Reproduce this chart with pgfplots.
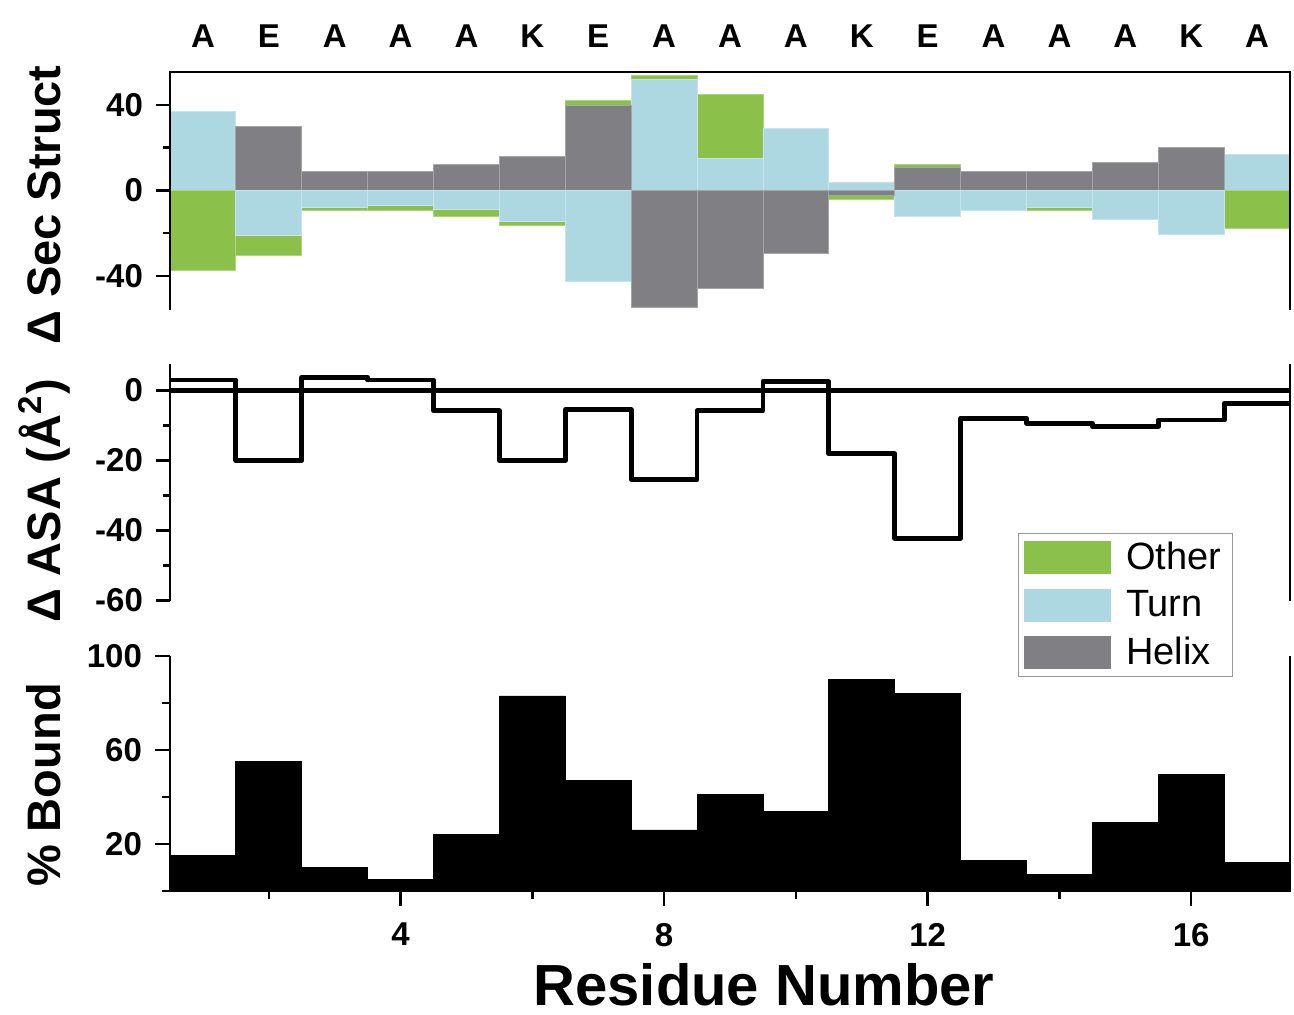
\documentclass[border=0pt]{standalone}
\usepackage{fontspec}
\setmainfont{Liberation Sans}
\usepackage{pgfplots}
\pgfplotsset{compat=1.18}
\definecolor{cOther}{RGB}{139,193,74}
\definecolor{cTurn}{RGB}{173,216,226}
\definecolor{cHelix}{RGB}{128,127,131}
\pgfplotsset{
  panel/.style={
    scale only axis, width=560pt,
    xmin=0.5, xmax=17.5, clip=false,
    tick align=outside,
    major tick length=7pt, minor tick length=3.5pt,
    every tick/.append style={line width=1.3pt, black},
    axis line style={draw=none},
    tick label style={font=\fontsize{16.5}{18}\selectfont\bfseries},
    y tick label style={xshift=-3pt},
    /pgf/number format/assume math mode=true,
    ytick pos=left,
  },
  sbar/.style={ybar, bar width=1, bar shift=0pt, fill=#1, draw=#1!70!white, line width=0.4pt},
}
\newcommand{\res}[2]{\node[anchor=base, inner sep=0pt, font=\fontsize{16.5}{18}\selectfont\bfseries, yshift=12.5pt] at (axis cs:#1,55.5) {#2};}
\begin{document}
\begin{tikzpicture}
\path[use as bounding box] (0pt,0pt) rectangle (647pt,507pt);
% ---------- top panel ----------
\begin{axis}[panel, at={(85pt,352pt)}, anchor=south west, height=119pt,
  ymin=-56, ymax=55.5, ytick={-40,0,40}, minor ytick={-20,20},
  xtick=\empty]
% positive side (cumulative: other on top of turn on top of helix)
\addplot[sbar=cOther] coordinates {(7,42) (8,54) (9,45) (12,12)};
\addplot[sbar=cTurn] coordinates {(1,37) (8,52) (9,15) (10,29) (11,4) (17,17)};
\addplot[sbar=cHelix] coordinates {(2,30) (3,9) (4,9) (5,12) (6,16) (7,40) (12,11) (13,9) (14,9) (15,13) (16,20)};
% negative side
\addplot[sbar=cOther] coordinates {(1,-37.5) (2,-30.6) (3,-9.4) (4,-9.4) (5,-12.2) (6,-16.4) (11,-4.4) (14,-9.4) (17,-17.7)};
\addplot[sbar=cTurn] coordinates {(2,-21) (3,-8) (4,-7.2) (5,-9.1) (6,-14.3) (7,-42.4) (12,-12.2) (13,-9.4) (14,-8) (15,-13.5) (16,-20.5)};
\addplot[sbar=cHelix] coordinates {(8,-54.6) (9,-45.7) (10,-29.4) (11,-2.1)};
\draw[line width=1.3pt] (rel axis cs:0,0) -- (rel axis cs:0,1) -- (rel axis cs:1,1) -- (rel axis cs:1,0);
\res{1}{A}\res{2}{E}\res{3}{A}\res{4}{A}\res{5}{A}\res{6}{K}\res{7}{E}\res{8}{A}\res{9}{A}
\res{10}{A}\res{11}{K}\res{12}{E}\res{13}{A}\res{14}{A}\res{15}{A}\res{16}{K}\res{17}{A}
\end{axis}
% ---------- middle panel ----------
\begin{axis}[panel, at={(85pt,206.7pt)}, anchor=south west, height=118.3pt,
  ymin=-60, ymax=7.6, ytick={-60,-40,-20,0}, minor ytick={-50,-30,-10},
  xtick=\empty]
\addplot[black, line width=2.4pt] coordinates {(0.5,0) (17.5,0)};
\addplot[const plot mark left, black, line width=2.4pt, line join=round, mark=none] coordinates {
 (0.5,3.0) (1.5,-20) (2.5,3.8) (3.5,3.0) (4.5,-5.8) (5.5,-20) (6.5,-5.5) (7.5,-25.5)
 (8.5,-5.8) (9.5,2.6) (10.5,-18) (11.5,-42.2) (12.5,-7.9) (13.5,-9.3) (14.5,-10.3)
 (15.5,-8.4) (16.5,-3.6) (17.5,-3.6)};
\draw[line width=1.3pt] (rel axis cs:0,0) -- (rel axis cs:0,1);
\draw[line width=1.3pt] (rel axis cs:1,0) -- (rel axis cs:1,1);
\end{axis}
% ---------- bottom panel ----------
\begin{axis}[panel, at={(85pt,61.5pt)}, anchor=south west, height=117.5pt,
  ymin=0, ymax=100, ytick={20,60,100}, minor ytick={0,40,80},
  xtick={4,8,12,16}, minor xtick={2,6,10,14}, xtick pos=bottom,
  major tick length=7.5pt, minor tick length=4pt,
  x tick label style={yshift=-5pt},
  legend style={at={(0.757,1.523)}, anchor=north west, draw=gray!80, fill=white,
    line width=0.6pt, font=\fontsize{19}{22}\selectfont,
    inner xsep=3pt, inner ysep=3.75pt, row sep=7.2pt,
    nodes={inner sep=0pt}},
  legend cell align=left,
  legend image code/.code={\fill[#1, draw=none] (0pt,-8.25pt) rectangle (43.5pt,8.25pt); \path (50.5pt,0pt);}]
\addplot[ybar, bar width=1, bar shift=0pt, fill=black, draw=black, forget plot] coordinates {
 (1,15) (2,55) (3,10) (4,5) (5,24) (6,83) (7,47) (8,26) (9,41) (10,34) (11,90) (12,84)
 (13,13) (14,7) (15,29) (16,49.5) (17,12)};
\draw[line width=1.3pt] (rel axis cs:0,1) -- (rel axis cs:0,0) -- (rel axis cs:1,0) -- (rel axis cs:1,1);
\addlegendimage{fill=cOther}
\addlegendentry{Other\hspace*{2.5pt}}
\addlegendimage{fill=cTurn}
\addlegendentry{Turn}
\addlegendimage{fill=cHelix}
\addlegendentry{Helix}
\end{axis}
% ---------- labels ----------
\node[rotate=90, anchor=base, inner sep=0pt, font=\fontsize{23.5}{26}\selectfont\bfseries] at (30pt,404.5pt) {Δ Sec Struct};
\node[rotate=90, anchor=base, inner sep=0pt, font=\fontsize{23.5}{26}\selectfont\bfseries] at (30pt,256.5pt) {Δ ASA (Å\textsuperscript{2})};
\node[rotate=90, anchor=base, inner sep=0pt, font=\fontsize{23.5}{26}\selectfont\bfseries] at (30pt,114.5pt) {\% Bound};
\node[anchor=base, inner sep=0pt, font=\fontsize{29}{32}\selectfont\bfseries] at (382pt,4.5pt) {Residue Number};
\end{tikzpicture}
\end{document}
